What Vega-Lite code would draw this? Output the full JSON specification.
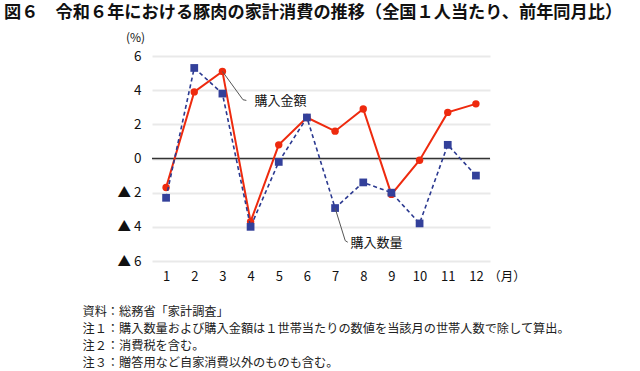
{
  "$schema": "https://vega.github.io/schema/vega-lite/v6.json",
  "width": 338,
  "height": 205,
  "autosize": {"type": "none"},
  "padding": {"left": 152, "top": 56, "right": 150, "bottom": 110},
  "background": "white",
  "title": {
    "text": "図６　令和６年における豚肉の家計消費の推移（全国１人当たり、前年同月比）",
    "anchor": "start",
    "frame": "group",
    "dx": -148,
    "offset": 10,
    "fontSize": 17.2,
    "fontWeight": "bold",
    "font": "Noto Sans CJK JP",
    "color": "#111"
  },
  "config": {"view": {"stroke": null}, "font": "Noto Sans CJK JP"},
  "datasets": {
    "series": [
      {"s": "購入金額", "x": 1, "y": -1.7},
      {"s": "購入金額", "x": 2, "y": 3.9},
      {"s": "購入金額", "x": 3, "y": 5.1},
      {"s": "購入金額", "x": 4, "y": -3.7},
      {"s": "購入金額", "x": 5, "y": 0.8},
      {"s": "購入金額", "x": 6, "y": 2.4},
      {"s": "購入金額", "x": 7, "y": 1.6},
      {"s": "購入金額", "x": 8, "y": 2.9},
      {"s": "購入金額", "x": 9, "y": -2.1},
      {"s": "購入金額", "x": 10, "y": -0.1},
      {"s": "購入金額", "x": 11, "y": 2.7},
      {"s": "購入金額", "x": 12, "y": 3.2},
      {"s": "購入数量", "x": 1, "y": -2.3},
      {"s": "購入数量", "x": 2, "y": 5.3},
      {"s": "購入数量", "x": 3, "y": 3.8},
      {"s": "購入数量", "x": 4, "y": -4.0},
      {"s": "購入数量", "x": 5, "y": -0.2},
      {"s": "購入数量", "x": 6, "y": 2.4},
      {"s": "購入数量", "x": 7, "y": -2.9},
      {"s": "購入数量", "x": 8, "y": -1.4},
      {"s": "購入数量", "x": 9, "y": -2.0},
      {"s": "購入数量", "x": 10, "y": -3.8},
      {"s": "購入数量", "x": 11, "y": 0.8},
      {"s": "購入数量", "x": 12, "y": -1.0}
    ],
    "leaders": [
      {"g": "a", "x": 3, "y": 5.1},
      {"g": "a", "x": 3.73, "y": 3.44},
      {"g": "a", "x": 3.85, "y": 3.4},
      {"g": "b", "x": 7, "y": -2.9},
      {"g": "b", "x": 7.36, "y": -4.81},
      {"g": "b", "x": 7.45, "y": -4.9}
    ],
    "labels": [
      {"t": "購入金額", "x": 4.14, "y": 3.34},
      {"t": "購入数量", "x": 7.55, "y": -4.97}
    ],
    "unit": [{"t": "（月）", "x": 13.1, "y": -6}],
    "zero": [{"x": 0.5, "y": 0}, {"x": 12.5, "y": 0}]
  },
  "encoding": {
    "x": {
      "field": "x",
      "type": "quantitative",
      "scale": {"domain": [0.5, 12.5]},
      "axis": {
        "values": [1, 2, 3, 4, 5, 6, 7, 8, 9, 10, 11, 12],
        "format": "d",
        "labelFontSize": 13,
        "labelColor": "#111",
        "labelPadding": 9,
        "ticks": false,
        "domain": false,
        "grid": false,
        "title": [
          "資料：総務省「家計調査」",
          "注１：購入数量および購入金額は１世帯当たりの数値を当該月の世帯人数で除して算出。",
          "注２：消費税を含む。",
          "注３：贈答用など自家消費以外のものも含む。"
        ],
        "titleX": -70,
        "titleY": 44,
        "titleAlign": "left",
        "titleAnchor": "start",
        "titleBaseline": "top",
        "titleLineHeight": 17,
        "titleFontSize": 12.2,
        "titleFontWeight": "normal",
        "titleColor": "#222"
      }
    },
    "y": {
      "field": "y",
      "type": "quantitative",
      "scale": {"domain": [-6, 6]},
      "axis": {
        "values": [-6, -4, -2, 0, 2, 4, 6],
        "labelExpr": "datum.value < 0 ? '▲ ' + abs(datum.value) : datum.value",
        "labelFontSize": 13.5,
        "labelColor": "#111",
        "labelPadding": 11,
        "ticks": false,
        "domain": false,
        "grid": true,
        "gridColor": "#e9e9e9",
        "gridWidth": 2,
        "title": "(%)",
        "titleAngle": 0,
        "titleX": -17,
        "titleY": -19,
        "titleAlign": "center",
        "titleBaseline": "middle",
        "titleFontSize": 12,
        "titleFontWeight": "normal",
        "titleColor": "#111"
      }
    }
  },
  "layer": [
    {
      "data": {"name": "zero"},
      "mark": {"type": "line", "color": "#333", "strokeWidth": 1.5}
    },
    {
      "data": {"name": "series"},
      "transform": [{"filter": "datum.s === '購入金額'"}],
      "mark": {"type": "line", "color": "#ee2a0e", "strokeWidth": 2}
    },
    {
      "data": {"name": "series"},
      "transform": [{"filter": "datum.s === '購入金額'"}],
      "mark": {"type": "point", "shape": "circle", "filled": true, "color": "#ee2a0e", "size": 55, "opacity": 1}
    },
    {
      "data": {"name": "series"},
      "transform": [{"filter": "datum.s === '購入数量'"}],
      "mark": {"type": "line", "color": "#2b3990", "strokeWidth": 1.6, "strokeDash": [4, 3]}
    },
    {
      "data": {"name": "series"},
      "transform": [{"filter": "datum.s === '購入数量'"}],
      "mark": {"type": "point", "shape": "square", "filled": true, "color": "#33409a", "size": 60, "opacity": 1}
    },
    {
      "data": {"name": "leaders"},
      "mark": {"type": "line", "color": "#555", "strokeWidth": 1},
      "encoding": {"detail": {"field": "g"}}
    },
    {
      "data": {"name": "labels"},
      "mark": {"type": "text", "align": "left", "baseline": "middle", "fontSize": 13, "color": "#111"},
      "encoding": {"text": {"field": "t"}}
    },
    {
      "data": {"name": "unit"},
      "mark": {"type": "text", "align": "center", "baseline": "middle", "fontSize": 12.5, "dy": 16, "color": "#111"},
      "encoding": {"text": {"field": "t"}}
    }
  ]
}
